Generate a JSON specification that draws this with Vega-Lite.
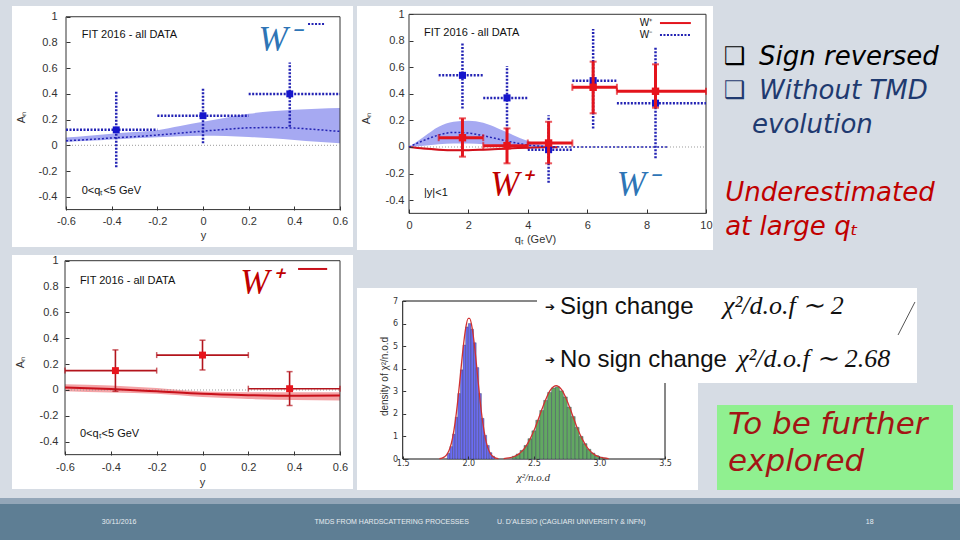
{
"$schema": "https://vega.github.io/schema/vega-lite/v6.json",
"background": "#d6dce4",
"padding": {"left": 0, "top": 6, "right": 0, "bottom": 0},
"config": {
  "view": {"stroke": null},
  "axis": {"grid": false, "domain": false, "ticks": true, "tickSize": -4, "tickColor": "#333", "tickWidth": 1, "zindex": 1, "tickCount": 30,
           "labelFont": "Liberation Sans", "labelFontSize": 11, "labelColor": "#333", "labelOverlap": false, "labelFlush": false,
           "titleFont": "Liberation Sans", "titleFontSize": 11, "titleFontWeight": "normal", "titleColor": "#333"},
  "text": {"font": "Liberation Sans"}
},
"datasets": {
  "p1band": [
    {"rap": -0.6, "lo": 0.026, "hi": 0.06, "mid": 0.035},
    {"rap": -0.5, "lo": 0.035, "hi": 0.075, "mid": 0.045},
    {"rap": -0.4, "lo": 0.045, "hi": 0.09, "mid": 0.057},
    {"rap": -0.3, "lo": 0.055, "hi": 0.103, "mid": 0.067},
    {"rap": -0.2, "lo": 0.063, "hi": 0.118, "mid": 0.08},
    {"rap": -0.1, "lo": 0.07, "hi": 0.15, "mid": 0.095},
    {"rap": 0.0, "lo": 0.075, "hi": 0.183, "mid": 0.11},
    {"rap": 0.1, "lo": 0.072, "hi": 0.215, "mid": 0.124},
    {"rap": 0.2, "lo": 0.065, "hi": 0.245, "mid": 0.136},
    {"rap": 0.3, "lo": 0.055, "hi": 0.264, "mid": 0.138},
    {"rap": 0.4, "lo": 0.042, "hi": 0.276, "mid": 0.134},
    {"rap": 0.5, "lo": 0.028, "hi": 0.285, "mid": 0.122},
    {"rap": 0.6, "lo": 0.015, "hi": 0.29, "mid": 0.108}
  ],
  "p1pts": [
    {"rap": -0.38, "an": 0.12, "xlo": -0.6, "xhi": -0.2, "ylo": -0.17, "yhi": 0.42},
    {"rap": 0.0, "an": 0.23, "xlo": -0.2, "xhi": 0.2, "ylo": 0.015, "yhi": 0.445},
    {"rap": 0.38, "an": 0.4, "xlo": 0.2, "xhi": 0.6, "ylo": 0.145, "yhi": 0.645}
  ],
  "yframe": [{"x1": -0.6, "x2": 0.6, "y1": -0.5, "y2": 1}],
  "yzero": [{"x1": -0.6, "x2": 0.6, "y": 0}],
  "p1notes": [
    {"x": -0.531, "y": 0.858, "t": "FIT 2016 - all DATA"},
    {"x": -0.531, "y": -0.355, "t": "0<qₜ<5 GeV"}
  ],
  "p1key": [{"x1": 0.46, "x2": 0.534, "y": 0.943}],
  "p1big": [{"x": 0.333, "y": 0.82, "t": "W⁻", "boson": "W-"}],
  "p2band": [
    {"qt": 0, "lo": 0, "hi": 0},
    {"qt": 0.5, "lo": 0.01, "hi": 0.078},
    {"qt": 1.0, "lo": 0.02, "hi": 0.153},
    {"qt": 1.5, "lo": 0.027, "hi": 0.19},
    {"qt": 2.0, "lo": 0.027, "hi": 0.198},
    {"qt": 2.5, "lo": 0.02, "hi": 0.182},
    {"qt": 3.0, "lo": 0.012, "hi": 0.14},
    {"qt": 3.5, "lo": 0.006, "hi": 0.09},
    {"qt": 4.0, "lo": 0.002, "hi": 0.045},
    {"qt": 4.5, "lo": 0.0, "hi": 0.015},
    {"qt": 5.0, "lo": 0.0, "hi": 0.003}
  ],
  "p2mid": [
    {"qt": 0, "mid": 0}, {"qt": 0.5, "mid": 0.05}, {"qt": 1.0, "mid": 0.09}, {"qt": 1.5, "mid": 0.11},
    {"qt": 2.0, "mid": 0.105}, {"qt": 2.5, "mid": 0.085}, {"qt": 3.0, "mid": 0.06}, {"qt": 3.5, "mid": 0.035},
    {"qt": 4.0, "mid": 0.015}, {"qt": 4.5, "mid": 0.005}, {"qt": 5.0, "mid": 0.001}, {"qt": 6.0, "mid": 0},
    {"qt": 7.0, "mid": 0}, {"qt": 8.7, "mid": 0}
  ],
  "p2redband": [
    {"qt": 0, "lo": 0, "hi": 0, "mid": 0},
    {"qt": 0.5, "lo": -0.018, "hi": -0.006, "mid": -0.012},
    {"qt": 1.0, "lo": -0.027, "hi": -0.013, "mid": -0.02},
    {"qt": 1.5, "lo": -0.031, "hi": -0.017, "mid": -0.024},
    {"qt": 2.0, "lo": -0.031, "hi": -0.017, "mid": -0.024},
    {"qt": 2.5, "lo": -0.027, "hi": -0.013, "mid": -0.02},
    {"qt": 3.0, "lo": -0.021, "hi": -0.009, "mid": -0.015},
    {"qt": 3.5, "lo": -0.015, "hi": -0.005, "mid": -0.01},
    {"qt": 4.0, "lo": -0.009, "hi": -0.001, "mid": -0.005},
    {"qt": 4.5, "lo": -0.005, "hi": 0.0, "mid": -0.002},
    {"qt": 5.0, "lo": -0.002, "hi": 0.0, "mid": -0.001}
  ],
  "p2blue": [
    {"qt": 1.8, "an": 0.54, "xlo": 1.0, "xhi": 2.5, "ylo": 0.29, "yhi": 0.78},
    {"qt": 3.3, "an": 0.37, "xlo": 2.5, "xhi": 4.0, "ylo": 0.13, "yhi": 0.61},
    {"qt": 4.7, "an": -0.02, "xlo": 4.0, "xhi": 5.5, "ylo": -0.27, "yhi": 0.24},
    {"qt": 6.2, "an": 0.5, "xlo": 5.5, "xhi": 7.0, "ylo": 0.14, "yhi": 0.89},
    {"qt": 8.3, "an": 0.33, "xlo": 7.0, "xhi": 10.0, "ylo": -0.085, "yhi": 0.75}
  ],
  "p2red": [
    {"qt": 1.8, "an": 0.07, "xlo": 1.0, "xhi": 2.5, "ylo": -0.073, "yhi": 0.216},
    {"qt": 3.3, "an": 0.01, "xlo": 2.5, "xhi": 4.0, "ylo": -0.123, "yhi": 0.14},
    {"qt": 4.7, "an": 0.03, "xlo": 4.0, "xhi": 5.5, "ylo": -0.123, "yhi": 0.19},
    {"qt": 6.2, "an": 0.45, "xlo": 5.5, "xhi": 7.0, "ylo": 0.254, "yhi": 0.643},
    {"qt": 8.3, "an": 0.42, "xlo": 7.0, "xhi": 10.0, "ylo": 0.296, "yhi": 0.623}
  ],
  "qframe": [{"x1": 0, "x2": 10, "y1": -0.5, "y2": 1}],
  "qzero": [{"x1": 0, "x2": 10, "y": 0}],
  "p2notes": [
    {"x": 0.505, "y": 0.859, "t": "FIT 2016 - all DATA"},
    {"x": 0.505, "y": -0.347, "t": "|y|<1"}
  ],
  "p2legend": [
    {"x": 7.98, "y": 0.934, "t": "W⁺"},
    {"x": 7.98, "y": 0.844, "t": "W⁻"}
  ],
  "p2keyred": [{"x1": 8.45, "x2": 9.49, "y": 0.934}],
  "p2keyblue": [{"x1": 8.45, "x2": 9.49, "y": 0.844}],
  "p2big": [
    {"x": 3.43, "y": -0.29, "t": "W⁺", "boson": "W+"},
    {"x": 7.69, "y": -0.29, "t": "W⁻", "boson": "W-"}
  ],
  "p3band": [
    {"rap": -0.6, "lo": -0.01, "hi": 0.045, "mid": 0.02},
    {"rap": -0.4, "lo": -0.02, "hi": 0.035, "mid": 0.008},
    {"rap": -0.2, "lo": -0.03, "hi": 0.015, "mid": -0.01},
    {"rap": 0.0, "lo": -0.055, "hi": -0.012, "mid": -0.03},
    {"rap": 0.2, "lo": -0.07, "hi": -0.018, "mid": -0.04},
    {"rap": 0.4, "lo": -0.078, "hi": -0.018, "mid": -0.045},
    {"rap": 0.6, "lo": -0.082, "hi": -0.018, "mid": -0.042}
  ],
  "p3pts": [
    {"rap": -0.38, "an": 0.15, "xlo": -0.6, "xhi": -0.2, "ylo": -0.01, "yhi": 0.31},
    {"rap": 0.0, "an": 0.27, "xlo": -0.2, "xhi": 0.2, "ylo": 0.155, "yhi": 0.385},
    {"rap": 0.38, "an": 0.01, "xlo": 0.2, "xhi": 0.6, "ylo": -0.12, "yhi": 0.142}
  ],
  "p3notes": [
    {"x": -0.535, "y": 0.843, "t": "FIT 2016 - all DATA"},
    {"x": -0.535, "y": -0.34, "t": "0<qₜ<5 GeV"}
  ],
  "p3key": [{"x1": 0.417, "x2": 0.544, "y": 0.936}],
  "p3big": [{"x": 0.255, "y": 0.83, "t": "W⁺", "boson": "W+"}],
  "bullets": [
    {"line": 1, "indent": 0, "topic": "sign"},
    {"line": 2, "indent": 0, "topic": "evolution"}
  ],
  "toptext": [
    {"line": 1, "indent": 1.25, "t": "Sign reversed", "topic": "sign"},
    {"line": 2, "indent": 1.25, "t": "Without TMD", "topic": "evolution"},
    {"line": 3, "indent": 1.0, "t": "evolution", "topic": "evolution"},
    {"line": 5, "indent": 0.04, "t": "Underestimated", "topic": "qt"},
    {"line": 6, "indent": 0.04, "t": "at large qₜ", "topic": "qt"}
  ],
  "paper": [{"x1": 1.1515, "x2": 3.7516, "y1": -1.3734, "y2": 7.576}],
  "hframe": [{"x1": 1.5, "x2": 3.5, "y1": 0, "y2": 7}],
  "callout": [{"x1": 2.524, "x2": 5.4215, "y1": 3.367, "y2": 7.576}],
  "note": [{"x1": 3.8965, "x2": 5.696, "y1": -1.3734, "y2": 2.392}],
  "stroke": [{"x1": 5.277, "x2": 5.406, "y1": 5.494, "y2": 6.956}],
  "hist": [
    {"lo": 1.84, "hi": 1.86, "base": 0, "d": 0.25, "dist": "sign change"},
    {"lo": 1.86, "hi": 1.88, "base": 0, "d": 0.55, "dist": "sign change"},
    {"lo": 1.88, "hi": 1.90, "base": 0, "d": 1.1, "dist": "sign change"},
    {"lo": 1.90, "hi": 1.92, "base": 0, "d": 1.85, "dist": "sign change"},
    {"lo": 1.92, "hi": 1.94, "base": 0, "d": 2.9, "dist": "sign change"},
    {"lo": 1.94, "hi": 1.96, "base": 0, "d": 3.95, "dist": "sign change"},
    {"lo": 1.96, "hi": 1.98, "base": 0, "d": 5.05, "dist": "sign change"},
    {"lo": 1.98, "hi": 2.00, "base": 0, "d": 5.85, "dist": "sign change"},
    {"lo": 2.00, "hi": 2.02, "base": 0, "d": 6.0, "dist": "sign change"},
    {"lo": 2.02, "hi": 2.04, "base": 0, "d": 5.75, "dist": "sign change"},
    {"lo": 2.04, "hi": 2.06, "base": 0, "d": 5.15, "dist": "sign change"},
    {"lo": 2.06, "hi": 2.08, "base": 0, "d": 4.05, "dist": "sign change"},
    {"lo": 2.08, "hi": 2.10, "base": 0, "d": 2.9, "dist": "sign change"},
    {"lo": 2.10, "hi": 2.12, "base": 0, "d": 1.8, "dist": "sign change"},
    {"lo": 2.12, "hi": 2.14, "base": 0, "d": 1.05, "dist": "sign change"},
    {"lo": 2.14, "hi": 2.16, "base": 0, "d": 0.6, "dist": "sign change"},
    {"lo": 2.16, "hi": 2.18, "base": 0, "d": 0.28, "dist": "sign change"},
    {"lo": 2.18, "hi": 2.20, "base": 0, "d": 0.12, "dist": "sign change"},
    {"lo": 2.335, "hi": 2.365, "base": 0, "d": 0.12, "dist": "no sign change"},
    {"lo": 2.365, "hi": 2.395, "base": 0, "d": 0.22, "dist": "no sign change"},
    {"lo": 2.395, "hi": 2.425, "base": 0, "d": 0.38, "dist": "no sign change"},
    {"lo": 2.425, "hi": 2.455, "base": 0, "d": 0.6, "dist": "no sign change"},
    {"lo": 2.455, "hi": 2.485, "base": 0, "d": 0.9, "dist": "no sign change"},
    {"lo": 2.485, "hi": 2.515, "base": 0, "d": 1.25, "dist": "no sign change"},
    {"lo": 2.515, "hi": 2.545, "base": 0, "d": 1.72, "dist": "no sign change"},
    {"lo": 2.545, "hi": 2.575, "base": 0, "d": 2.15, "dist": "no sign change"},
    {"lo": 2.575, "hi": 2.605, "base": 0, "d": 2.6, "dist": "no sign change"},
    {"lo": 2.605, "hi": 2.635, "base": 0, "d": 2.95, "dist": "no sign change"},
    {"lo": 2.635, "hi": 2.665, "base": 0, "d": 3.15, "dist": "no sign change"},
    {"lo": 2.665, "hi": 2.695, "base": 0, "d": 3.2, "dist": "no sign change"},
    {"lo": 2.695, "hi": 2.725, "base": 0, "d": 3.02, "dist": "no sign change"},
    {"lo": 2.725, "hi": 2.755, "base": 0, "d": 2.75, "dist": "no sign change"},
    {"lo": 2.755, "hi": 2.785, "base": 0, "d": 2.3, "dist": "no sign change"},
    {"lo": 2.785, "hi": 2.815, "base": 0, "d": 1.88, "dist": "no sign change"},
    {"lo": 2.815, "hi": 2.845, "base": 0, "d": 1.4, "dist": "no sign change"},
    {"lo": 2.845, "hi": 2.875, "base": 0, "d": 1.0, "dist": "no sign change"},
    {"lo": 2.875, "hi": 2.905, "base": 0, "d": 0.68, "dist": "no sign change"},
    {"lo": 2.905, "hi": 2.935, "base": 0, "d": 0.43, "dist": "no sign change"},
    {"lo": 2.935, "hi": 2.965, "base": 0, "d": 0.26, "dist": "no sign change"},
    {"lo": 2.965, "hi": 2.995, "base": 0, "d": 0.15, "dist": "no sign change"},
    {"lo": 2.995, "hi": 3.025, "base": 0, "d": 0.08, "dist": "no sign change"},
    {"lo": 3.025, "hi": 3.055, "base": 0, "d": 0.04, "dist": "no sign change"}
  ],
  "fit": [
    {"chi": 1.78, "d": 0.013, "dist": "sign change"}, {"chi": 1.80, "d": 0.037, "dist": "sign change"},
    {"chi": 1.82, "d": 0.096, "dist": "sign change"}, {"chi": 1.84, "d": 0.226, "dist": "sign change"},
    {"chi": 1.86, "d": 0.48, "dist": "sign change"}, {"chi": 1.88, "d": 0.93, "dist": "sign change"},
    {"chi": 1.90, "d": 1.63, "dist": "sign change"}, {"chi": 1.92, "d": 2.59, "dist": "sign change"},
    {"chi": 1.94, "d": 3.73, "dist": "sign change"}, {"chi": 1.96, "d": 4.88, "dist": "sign change"},
    {"chi": 1.98, "d": 5.79, "dist": "sign change"}, {"chi": 2.00, "d": 6.23, "dist": "sign change"},
    {"chi": 2.01, "d": 6.23, "dist": "sign change"}, {"chi": 2.03, "d": 5.79, "dist": "sign change"},
    {"chi": 2.05, "d": 4.88, "dist": "sign change"}, {"chi": 2.07, "d": 3.73, "dist": "sign change"},
    {"chi": 2.09, "d": 2.59, "dist": "sign change"}, {"chi": 2.11, "d": 1.63, "dist": "sign change"},
    {"chi": 2.13, "d": 0.93, "dist": "sign change"}, {"chi": 2.15, "d": 0.48, "dist": "sign change"},
    {"chi": 2.17, "d": 0.226, "dist": "sign change"}, {"chi": 2.19, "d": 0.096, "dist": "sign change"},
    {"chi": 2.21, "d": 0.037, "dist": "sign change"}, {"chi": 2.23, "d": 0.013, "dist": "sign change"},
    {"chi": 2.27, "d": 0.016, "dist": "no sign change"}, {"chi": 2.31, "d": 0.045, "dist": "no sign change"},
    {"chi": 2.35, "d": 0.11, "dist": "no sign change"}, {"chi": 2.39, "d": 0.244, "dist": "no sign change"},
    {"chi": 2.43, "d": 0.484, "dist": "no sign change"}, {"chi": 2.47, "d": 0.87, "dist": "no sign change"},
    {"chi": 2.51, "d": 1.39, "dist": "no sign change"}, {"chi": 2.55, "d": 2.02, "dist": "no sign change"},
    {"chi": 2.59, "d": 2.63, "dist": "no sign change"}, {"chi": 2.63, "d": 3.08, "dist": "no sign change"},
    {"chi": 2.67, "d": 3.25, "dist": "no sign change"}, {"chi": 2.71, "d": 3.08, "dist": "no sign change"},
    {"chi": 2.75, "d": 2.63, "dist": "no sign change"}, {"chi": 2.79, "d": 2.02, "dist": "no sign change"},
    {"chi": 2.83, "d": 1.39, "dist": "no sign change"}, {"chi": 2.87, "d": 0.87, "dist": "no sign change"},
    {"chi": 2.91, "d": 0.484, "dist": "no sign change"}, {"chi": 2.95, "d": 0.244, "dist": "no sign change"},
    {"chi": 2.99, "d": 0.11, "dist": "no sign change"}, {"chi": 3.03, "d": 0.045, "dist": "no sign change"},
    {"chi": 3.07, "d": 0.016, "dist": "no sign change"}
  ],
  "arrows": [{"x": 2.585, "y": 6.735, "t": "➔"}, {"x": 2.585, "y": 4.386, "t": "➔"}],
  "callouts": [
    {"x": 2.70, "y": 6.735, "t": "Sign change"},
    {"x": 2.70, "y": 4.386, "t": "No sign change"}
  ],
  "formulas": [
    {"x": 3.943, "y": 6.8, "t": "χ²/d.o.f  ∼  2"},
    {"x": 4.05, "y": 4.45, "t": "χ²/d.o.f  ∼  2.68"}
  ],
  "greennote": [
    {"x": 3.981, "y": 1.506, "t": "To be further"},
    {"x": 3.981, "y": -0.133, "t": "explored"}
  ],
  "footer": [
    {"pct": 12.4, "t": "30/11/2016"},
    {"pct": 40.8, "t": "TMDS FROM HARDSCATTERING PROCESSES"},
    {"pct": 59.5, "t": "U. D'ALESIO (CAGLIARI UNIVERSITY & INFN)"},
    {"pct": 90.6, "t": "18"}
  ],
  "blank": [{"t": ""}]
},
"resolve": {"scale": {"color": "independent", "fill": "independent"}},
"spacing": 8,
"vconcat": [
  {"spacing": 4, "resolve": {"scale": {"color": "independent", "fill": "independent"}}, "hconcat": [
    {"width": 8, "height": 100, "data": {"name": "blank"}, "mark": {"type": "text", "fontSize": 1, "baseline": "middle"}, "encoding": {"text": {"field": "t"}}},
    {"spacing": 7, "resolve": {"scale": {"color": "independent", "fill": "independent"}}, "vconcat": [
      {"width": 341, "height": 241, "view": {"fill": "#ffffff", "stroke": null},
       "layer": [
        {"data": {"name": "p1band"}, "mark": {"type": "area", "color": "#a6a9f2", "interpolate": "monotone"},
         "encoding": {
           "x": {"field": "rap", "type": "quantitative", "scale": {"domain": [-0.8365, 0.6569], "nice": false, "zero": false},
                 "axis": {"values": [-0.6, -0.4, -0.2, 0, 0.2, 0.4, 0.6], "tickCount": 30, "offset": -37, "labelExpr": "'' + datum.value", "labelOverlap": false, "zindex": 1, "labelPadding": 9, "title": "y", "titlePadding": 3, "titleX": 191}},
           "y": {"field": "lo", "type": "quantitative", "scale": {"domain": [-0.791, 1.0835], "nice": false, "zero": false},
                 "axis": {"values": [-0.4, -0.2, 0, 0.2, 0.4, 0.6, 0.8, 1], "tickCount": 30, "offset": -54, "labelExpr": "'' + datum.value", "labelOverlap": false, "zindex": 1, "labelPadding": 13, "title": "Aₙ", "titlePadding": 12, "titleY": 111}},
           "y2": {"field": "hi"}}},
        {"data": {"name": "yframe"}, "mark": {"type": "rect", "fillOpacity": 0, "stroke": "#333", "strokeWidth": 1},
         "encoding": {"x": {"field": "x1", "type": "quantitative"}, "x2": {"field": "x2"}, "y": {"field": "y1", "type": "quantitative"}, "y2": {"field": "y2"}}},
        {"data": {"name": "yzero"}, "mark": {"type": "rule", "color": "#9a9a9a", "strokeDash": [1, 2], "strokeWidth": 1},
         "encoding": {"x": {"field": "x1", "type": "quantitative"}, "x2": {"field": "x2"}, "y": {"field": "y", "type": "quantitative"}}},
        {"data": {"name": "p1band"}, "mark": {"type": "line", "color": "#2323b4", "strokeDash": [2, 2], "strokeWidth": 1.5, "interpolate": "monotone"},
         "encoding": {"x": {"field": "rap", "type": "quantitative"}, "y": {"field": "mid", "type": "quantitative"}}},
        {"data": {"name": "p1pts"}, "mark": {"type": "rule", "color": "#2323b4", "strokeDash": [2, 1.5], "strokeWidth": 2.5},
         "encoding": {"x": {"field": "rap", "type": "quantitative"}, "y": {"field": "ylo", "type": "quantitative"}, "y2": {"field": "yhi"}}},
        {"data": {"name": "p1pts"}, "mark": {"type": "rule", "color": "#2323b4", "strokeDash": [2, 1.5], "strokeWidth": 2.5},
         "encoding": {"y": {"field": "an", "type": "quantitative"}, "x": {"field": "xlo", "type": "quantitative"}, "x2": {"field": "xhi"}}},
        {"data": {"name": "p1pts"}, "mark": {"type": "square", "size": 48, "filled": true, "opacity": 1, "color": "#1515cc"},
         "encoding": {"x": {"field": "rap", "type": "quantitative"}, "y": {"field": "an", "type": "quantitative"}}},
        {"data": {"name": "p1notes"}, "mark": {"type": "text", "align": "left", "baseline": "middle", "fontSize": 11, "color": "#111"},
         "encoding": {"x": {"field": "x", "type": "quantitative"}, "y": {"field": "y", "type": "quantitative"}, "text": {"field": "t"}}},
        {"data": {"name": "p1key"}, "mark": {"type": "rule", "color": "#2323b4", "strokeDash": [2, 1.5], "strokeWidth": 2},
         "encoding": {"x": {"field": "x1", "type": "quantitative"}, "x2": {"field": "x2"}, "y": {"field": "y", "type": "quantitative"}}},
        {"data": {"name": "p1big"}, "mark": {"type": "text", "align": "center", "baseline": "middle", "font": "Liberation Serif", "fontStyle": "italic", "fontSize": 35},
         "encoding": {"x": {"field": "x", "type": "quantitative"}, "y": {"field": "y", "type": "quantitative"}, "text": {"field": "t"},
                      "color": {"field": "boson", "type": "nominal", "scale": {"domain": ["W+", "W-"], "range": ["#c00000", "#2e75b6"]}, "legend": null}}}
       ]},
      {"width": 341, "height": 234, "view": {"fill": "#ffffff", "stroke": null},
       "layer": [
        {"data": {"name": "p3band"}, "mark": {"type": "area", "color": "#f4a3a6", "interpolate": "monotone"},
         "encoding": {
           "x": {"field": "rap", "type": "quantitative", "scale": {"domain": [-0.8313, 0.6567], "nice": false, "zero": false},
                 "axis": {"values": [-0.6, -0.4, -0.2, 0, 0.2, 0.4, 0.6], "tickCount": 30, "offset": -34, "labelExpr": "'' + datum.value", "labelOverlap": false, "zindex": 1, "labelPadding": 10, "title": "y", "titlePadding": 4, "titleX": 190}},
           "y": {"field": "lo", "type": "quantitative", "scale": {"domain": [-0.7657, 1.044], "nice": false, "zero": false},
                 "axis": {"values": [-0.4, -0.2, 0, 0.2, 0.4, 0.6, 0.8, 1], "tickCount": 30, "offset": -53, "labelExpr": "'' + datum.value", "labelOverlap": false, "zindex": 1, "labelPadding": 11, "title": "Aₙ", "titlePadding": 14, "titleY": 107}},
           "y2": {"field": "hi"}}},
        {"data": {"name": "yframe"}, "mark": {"type": "rect", "fillOpacity": 0, "stroke": "#333", "strokeWidth": 1},
         "encoding": {"x": {"field": "x1", "type": "quantitative"}, "x2": {"field": "x2"}, "y": {"field": "y1", "type": "quantitative"}, "y2": {"field": "y2"}}},
        {"data": {"name": "yzero"}, "mark": {"type": "rule", "color": "#9a9a9a", "strokeDash": [1, 2], "strokeWidth": 1},
         "encoding": {"x": {"field": "x1", "type": "quantitative"}, "x2": {"field": "x2"}, "y": {"field": "y", "type": "quantitative"}}},
        {"data": {"name": "p3band"}, "mark": {"type": "line", "color": "#c8101a", "strokeWidth": 2, "interpolate": "monotone"},
         "encoding": {"x": {"field": "rap", "type": "quantitative"}, "y": {"field": "mid", "type": "quantitative"}}},
        {"data": {"name": "p3pts"}, "mark": {"type": "rule", "color": "#b3141c", "strokeWidth": 1.6},
         "encoding": {"x": {"field": "rap", "type": "quantitative"}, "y": {"field": "ylo", "type": "quantitative"}, "y2": {"field": "yhi"}}},
        {"data": {"name": "p3pts"}, "mark": {"type": "rule", "color": "#b3141c", "strokeWidth": 1.6},
         "encoding": {"y": {"field": "an", "type": "quantitative"}, "x": {"field": "xlo", "type": "quantitative"}, "x2": {"field": "xhi"}}},
        {"data": {"name": "p3pts"}, "mark": {"type": "tick", "orient": "horizontal", "color": "#b3141c", "size": 6, "thickness": 1.5},
         "encoding": {"x": {"field": "rap", "type": "quantitative"}, "y": {"field": "ylo", "type": "quantitative"}}},
        {"data": {"name": "p3pts"}, "mark": {"type": "tick", "orient": "horizontal", "color": "#b3141c", "size": 6, "thickness": 1.5},
         "encoding": {"x": {"field": "rap", "type": "quantitative"}, "y": {"field": "yhi", "type": "quantitative"}}},
        {"data": {"name": "p3pts"}, "mark": {"type": "tick", "orient": "vertical", "color": "#b3141c", "size": 6, "thickness": 1.5},
         "encoding": {"x": {"field": "xlo", "type": "quantitative"}, "y": {"field": "an", "type": "quantitative"}}},
        {"data": {"name": "p3pts"}, "mark": {"type": "tick", "orient": "vertical", "color": "#b3141c", "size": 6, "thickness": 1.5},
         "encoding": {"x": {"field": "xhi", "type": "quantitative"}, "y": {"field": "an", "type": "quantitative"}}},
        {"data": {"name": "p3pts"}, "mark": {"type": "square", "size": 48, "filled": true, "opacity": 1, "color": "#e8141c"},
         "encoding": {"x": {"field": "rap", "type": "quantitative"}, "y": {"field": "an", "type": "quantitative"}}},
        {"data": {"name": "p3notes"}, "mark": {"type": "text", "align": "left", "baseline": "middle", "fontSize": 11, "color": "#111"},
         "encoding": {"x": {"field": "x", "type": "quantitative"}, "y": {"field": "y", "type": "quantitative"}, "text": {"field": "t"}}},
        {"data": {"name": "p3key"}, "mark": {"type": "rule", "color": "#c8101a", "strokeWidth": 2},
         "encoding": {"x": {"field": "x1", "type": "quantitative"}, "x2": {"field": "x2"}, "y": {"field": "y", "type": "quantitative"}}},
        {"data": {"name": "p3big"}, "mark": {"type": "text", "align": "center", "baseline": "middle", "font": "Liberation Serif", "fontStyle": "italic", "fontSize": 35},
         "encoding": {"x": {"field": "x", "type": "quantitative"}, "y": {"field": "y", "type": "quantitative"}, "text": {"field": "t"},
                      "color": {"field": "boson", "type": "nominal", "scale": {"domain": ["W+", "W-"], "range": ["#c00000", "#2e75b6"]}, "legend": null}}}
       ]}
    ]},
    {"spacing": 38, "resolve": {"scale": {"color": "independent", "fill": "independent"}}, "vconcat": [
      {"spacing": 3, "resolve": {"scale": {"color": "independent", "fill": "independent"}}, "hconcat": [
        {"width": 356, "height": 244, "view": {"fill": "#ffffff", "stroke": null},
         "layer": [
          {"data": {"name": "p2band"}, "mark": {"type": "area", "color": "#a6a9f2", "interpolate": "monotone"},
           "encoding": {
             "x": {"field": "qt", "type": "quantitative", "scale": {"domain": [-1.7508, 10.2357], "nice": false, "zero": false},
                   "axis": {"values": [0, 2, 4, 6, 8, 10], "tickCount": 30, "offset": -37, "labelExpr": "'' + datum.value", "labelOverlap": false, "zindex": 1, "labelPadding": 10, "title": "qₜ (GeV)", "titlePadding": 3}},
             "y": {"field": "lo", "type": "quantitative", "scale": {"domain": [-0.7762, 1.0625], "nice": false, "zero": false},
                   "axis": {"values": [-0.4, -0.2, 0, 0.2, 0.4, 0.6, 0.8, 1], "tickCount": 30, "offset": -52, "labelExpr": "'' + datum.value", "labelOverlap": false, "zindex": 1, "labelPadding": 9, "title": "Aₙ", "titlePadding": 14, "titleY": 112}},
             "y2": {"field": "hi"}}},
          {"data": {"name": "qframe"}, "mark": {"type": "rect", "fillOpacity": 0, "stroke": "#333", "strokeWidth": 1},
           "encoding": {"x": {"field": "x1", "type": "quantitative"}, "x2": {"field": "x2"}, "y": {"field": "y1", "type": "quantitative"}, "y2": {"field": "y2"}}},
          {"data": {"name": "qzero"}, "mark": {"type": "rule", "color": "#9a9a9a", "strokeDash": [1, 2], "strokeWidth": 1},
           "encoding": {"x": {"field": "x1", "type": "quantitative"}, "x2": {"field": "x2"}, "y": {"field": "y", "type": "quantitative"}}},
          {"data": {"name": "p2redband"}, "mark": {"type": "area", "color": "#f4a3a6", "interpolate": "monotone"},
           "encoding": {"x": {"field": "qt", "type": "quantitative"}, "y": {"field": "lo", "type": "quantitative"}, "y2": {"field": "hi"}}},
          {"data": {"name": "p2redband"}, "mark": {"type": "line", "color": "#d0101a", "strokeWidth": 2, "interpolate": "monotone"},
           "encoding": {"x": {"field": "qt", "type": "quantitative"}, "y": {"field": "mid", "type": "quantitative"}}},
          {"data": {"name": "p2mid"}, "mark": {"type": "line", "color": "#2323b4", "strokeDash": [2, 2], "strokeWidth": 1.5, "interpolate": "monotone"},
           "encoding": {"x": {"field": "qt", "type": "quantitative"}, "y": {"field": "mid", "type": "quantitative"}}},
          {"data": {"name": "p2blue"}, "mark": {"type": "rule", "color": "#2323b4", "strokeDash": [2, 1.5], "strokeWidth": 2.5},
           "encoding": {"x": {"field": "qt", "type": "quantitative"}, "y": {"field": "ylo", "type": "quantitative"}, "y2": {"field": "yhi"}}},
          {"data": {"name": "p2blue"}, "mark": {"type": "rule", "color": "#2323b4", "strokeDash": [2, 1.5], "strokeWidth": 2.5},
           "encoding": {"y": {"field": "an", "type": "quantitative"}, "x": {"field": "xlo", "type": "quantitative"}, "x2": {"field": "xhi"}}},
          {"data": {"name": "p2blue"}, "mark": {"type": "square", "size": 50, "filled": true, "opacity": 1, "color": "#1515cc"},
           "encoding": {"x": {"field": "qt", "type": "quantitative"}, "y": {"field": "an", "type": "quantitative"}}},
          {"data": {"name": "p2red"}, "mark": {"type": "rule", "color": "#e3141c", "strokeWidth": 3},
           "encoding": {"x": {"field": "qt", "type": "quantitative"}, "y": {"field": "ylo", "type": "quantitative"}, "y2": {"field": "yhi"}}},
          {"data": {"name": "p2red"}, "mark": {"type": "rule", "color": "#e3141c", "strokeWidth": 3},
           "encoding": {"y": {"field": "an", "type": "quantitative"}, "x": {"field": "xlo", "type": "quantitative"}, "x2": {"field": "xhi"}}},
          {"data": {"name": "p2red"}, "mark": {"type": "tick", "orient": "horizontal", "color": "#e3141c", "size": 7, "thickness": 2},
           "encoding": {"x": {"field": "qt", "type": "quantitative"}, "y": {"field": "ylo", "type": "quantitative"}}},
          {"data": {"name": "p2red"}, "mark": {"type": "tick", "orient": "horizontal", "color": "#e3141c", "size": 7, "thickness": 2},
           "encoding": {"x": {"field": "qt", "type": "quantitative"}, "y": {"field": "yhi", "type": "quantitative"}}},
          {"data": {"name": "p2red"}, "mark": {"type": "tick", "orient": "vertical", "color": "#e3141c", "size": 7, "thickness": 2},
           "encoding": {"x": {"field": "xlo", "type": "quantitative"}, "y": {"field": "an", "type": "quantitative"}}},
          {"data": {"name": "p2red"}, "mark": {"type": "tick", "orient": "vertical", "color": "#e3141c", "size": 7, "thickness": 2},
           "encoding": {"x": {"field": "xhi", "type": "quantitative"}, "y": {"field": "an", "type": "quantitative"}}},
          {"data": {"name": "p2red"}, "mark": {"type": "square", "size": 55, "filled": true, "opacity": 1, "color": "#e8141c"},
           "encoding": {"x": {"field": "qt", "type": "quantitative"}, "y": {"field": "an", "type": "quantitative"}}},
          {"data": {"name": "p2notes"}, "mark": {"type": "text", "align": "left", "baseline": "middle", "fontSize": 11, "color": "#111"},
           "encoding": {"x": {"field": "x", "type": "quantitative"}, "y": {"field": "y", "type": "quantitative"}, "text": {"field": "t"}}},
          {"data": {"name": "p2legend"}, "mark": {"type": "text", "align": "center", "baseline": "middle", "fontSize": 10, "color": "#111"},
           "encoding": {"x": {"field": "x", "type": "quantitative"}, "y": {"field": "y", "type": "quantitative"}, "text": {"field": "t"}}},
          {"data": {"name": "p2keyred"}, "mark": {"type": "rule", "color": "#e3141c", "strokeWidth": 2},
           "encoding": {"x": {"field": "x1", "type": "quantitative"}, "x2": {"field": "x2"}, "y": {"field": "y", "type": "quantitative"}}},
          {"data": {"name": "p2keyblue"}, "mark": {"type": "rule", "color": "#2323b4", "strokeDash": [2, 1.5], "strokeWidth": 2},
           "encoding": {"x": {"field": "x1", "type": "quantitative"}, "x2": {"field": "x2"}, "y": {"field": "y", "type": "quantitative"}}},
          {"data": {"name": "p2big"}, "mark": {"type": "text", "align": "center", "baseline": "middle", "font": "Liberation Serif", "fontStyle": "italic", "fontSize": 35},
           "encoding": {"x": {"field": "x", "type": "quantitative"}, "y": {"field": "y", "type": "quantitative"}, "text": {"field": "t"},
                        "color": {"field": "boson", "type": "nominal", "scale": {"domain": ["W+", "W-"], "range": ["#c00000", "#2e75b6"]}, "legend": null}}}
         ]},
        {"width": 239, "height": 244,
         "layer": [
          {"data": {"name": "bullets"}, "mark": {"type": "text", "align": "left", "baseline": "middle", "font": "DejaVu Sans", "fontSize": 24, "text": "❑"},
           "encoding": {
             "x": {"field": "indent", "type": "quantitative", "scale": {"domain": [-0.286, 8.25], "nice": false, "zero": false}, "axis": null},
             "y": {"field": "line", "type": "quantitative", "scale": {"domain": [-0.5, 6.676], "reverse": true, "nice": false, "zero": false}, "axis": null},
             "color": {"field": "topic", "type": "nominal", "scale": {"domain": ["sign", "evolution", "qt"], "range": ["#000000", "#1f3a70", "#c00000"]}, "legend": null}}},
          {"data": {"name": "toptext"}, "mark": {"type": "text", "align": "left", "baseline": "middle", "font": "DejaVu Sans", "fontStyle": "italic", "fontSize": 26},
           "encoding": {
             "x": {"field": "indent", "type": "quantitative", "axis": null},
             "y": {"field": "line", "type": "quantitative", "axis": null},
             "text": {"field": "t"},
             "color": {"field": "topic", "type": "nominal", "legend": null}}}
         ]}
      ]},
      {"width": 598, "height": 202,
       "layer": [
        {"data": {"name": "paper"}, "mark": {"type": "rect", "color": "#ffffff"},
         "encoding": {
           "x": {"field": "x1", "type": "quantitative", "scale": {"domain": [1.1515, 5.7112], "nice": false, "zero": false},
                 "axis": {"values": [1.5, 2, 2.5, 3, 3.5], "tickCount": 30, "format": ".1f", "offset": -31, "labelOverlap": false, "zindex": 1, "labelFont": "DejaVu Sans", "labelFontSize": 8, "labelPadding": 3, "tickSize": -3,
                          "title": "χ²/n.o.d", "titleFont": "Liberation Serif", "titleFontStyle": "italic", "titleFontSize": 11, "titlePadding": 4, "titleX": 176}},
           "x2": {"field": "x2"},
           "y": {"field": "y1", "type": "quantitative", "scale": {"domain": [-1.3734, 7.576], "nice": false, "zero": false},
                 "axis": {"values": [0, 1, 2, 3, 4, 5, 6, 7], "tickCount": 30, "format": "d", "offset": -45.7, "labelOverlap": false, "zindex": 1, "labelFont": "DejaVu Sans", "labelFontSize": 8, "labelPadding": 8, "tickSize": -3,
                          "title": "density of χ²/n.o.d", "titleFontSize": 10, "titlePadding": 3, "titleY": 88}},
           "y2": {"field": "y2"}}},
        {"data": {"name": "hframe"}, "mark": {"type": "rect", "fillOpacity": 0, "stroke": "#111", "strokeWidth": 1},
         "encoding": {"x": {"field": "x1", "type": "quantitative"}, "x2": {"field": "x2"}, "y": {"field": "y1", "type": "quantitative"}, "y2": {"field": "y2"}}},
        {"data": {"name": "hist"}, "mark": {"type": "rect", "stroke": "#3a3a5a", "strokeWidth": 0.4, "opacity": 1},
         "encoding": {"x": {"field": "lo", "type": "quantitative"}, "x2": {"field": "hi"},
                      "y": {"field": "base", "type": "quantitative"}, "y2": {"field": "d"},
                      "fill": {"field": "dist", "type": "nominal", "scale": {"domain": ["sign change", "no sign change"], "range": ["#6b6df2", "#62a862"]}, "legend": null}}},
        {"data": {"name": "fit"}, "mark": {"type": "line", "color": "#d03030", "strokeWidth": 1.3, "interpolate": "monotone"},
         "encoding": {"x": {"field": "chi", "type": "quantitative"}, "y": {"field": "d", "type": "quantitative"}, "detail": {"field": "dist", "type": "nominal"}}},
        {"data": {"name": "callout"}, "mark": {"type": "rect", "color": "#ffffff", "opacity": 1},
         "encoding": {"x": {"field": "x1", "type": "quantitative"}, "x2": {"field": "x2"}, "y": {"field": "y1", "type": "quantitative"}, "y2": {"field": "y2"}}},
        {"data": {"name": "note"}, "mark": {"type": "rect", "color": "#90f090", "opacity": 1},
         "encoding": {"x": {"field": "x1", "type": "quantitative"}, "x2": {"field": "x2"}, "y": {"field": "y1", "type": "quantitative"}, "y2": {"field": "y2"}}},
        {"data": {"name": "stroke"}, "mark": {"type": "rule", "color": "#555", "strokeWidth": 1},
         "encoding": {"x": {"field": "x1", "type": "quantitative"}, "x2": {"field": "x2"}, "y": {"field": "y1", "type": "quantitative"}, "y2": {"field": "y2"}}},
        {"data": {"name": "arrows"}, "mark": {"type": "text", "align": "left", "baseline": "middle", "font": "DejaVu Sans", "fontSize": 12, "fontWeight": "bold", "color": "#111"},
         "encoding": {"x": {"field": "x", "type": "quantitative"}, "y": {"field": "y", "type": "quantitative"}, "text": {"field": "t"}}},
        {"data": {"name": "callouts"}, "mark": {"type": "text", "align": "left", "baseline": "middle", "font": "Liberation Sans", "fontSize": 24, "color": "#111"},
         "encoding": {"x": {"field": "x", "type": "quantitative"}, "y": {"field": "y", "type": "quantitative"}, "text": {"field": "t"}}},
        {"data": {"name": "formulas"}, "mark": {"type": "text", "align": "left", "baseline": "middle", "font": "Liberation Serif", "fontStyle": "italic", "fontSize": 26, "color": "#111"},
         "encoding": {"x": {"field": "x", "type": "quantitative"}, "y": {"field": "y", "type": "quantitative"}, "text": {"field": "t"}}},
        {"data": {"name": "greennote"}, "mark": {"type": "text", "align": "left", "baseline": "middle", "font": "DejaVu Sans", "fontStyle": "italic", "fontSize": 31, "color": "#a31515"},
         "encoding": {"x": {"field": "x", "type": "quantitative"}, "y": {"field": "y", "type": "quantitative"}, "text": {"field": "t"}}}
       ]}
    ]}
  ]},
  {"spacing": 0, "vconcat": [
    {"width": 960, "height": 6, "view": {"fill": "#93a6b8", "stroke": null}, "data": {"name": "blank"}, "mark": {"type": "text", "fontSize": 1, "baseline": "middle"}, "encoding": {"text": {"field": "t"}}},
    {"width": 960, "height": 36, "view": {"fill": "#5e7e94", "stroke": null}, "data": {"name": "footer"},
     "mark": {"type": "text", "align": "center", "baseline": "middle", "fontSize": 7, "color": "#e6ecf0"},
     "encoding": {"x": {"field": "pct", "type": "quantitative", "scale": {"domain": [0, 100]}, "axis": null}, "text": {"field": "t"}}}
  ]}
]
}
